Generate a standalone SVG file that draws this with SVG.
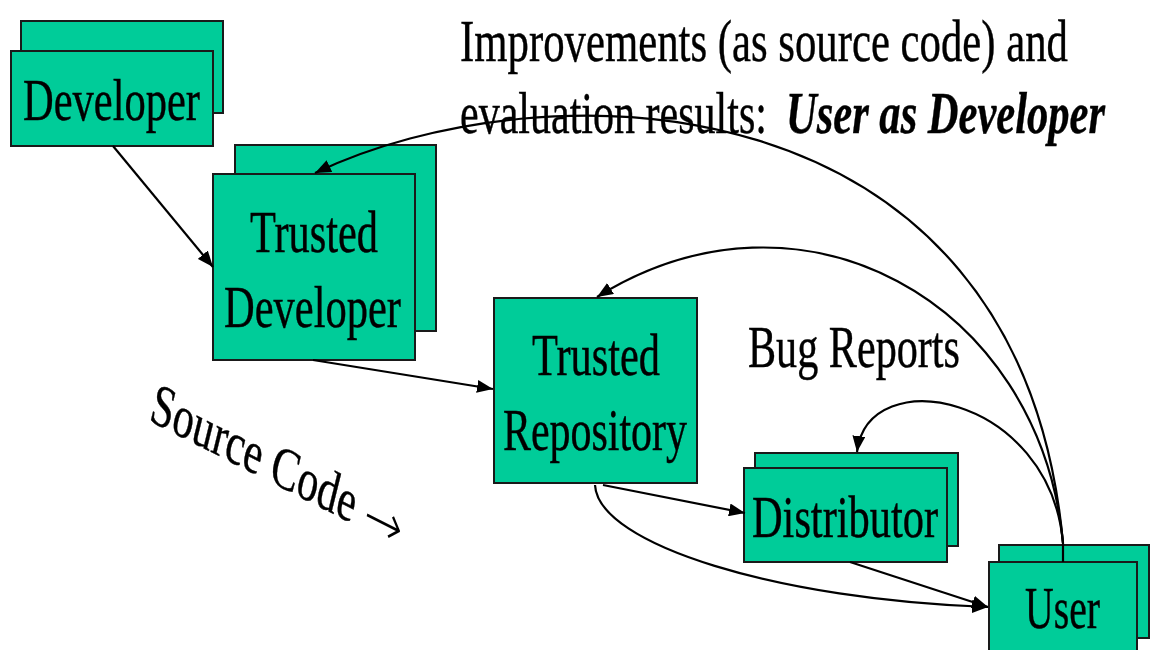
<svg xmlns="http://www.w3.org/2000/svg" width="1151" height="650" viewBox="0 0 1151 650">
<style>
  .box { fill: #00CC99; stroke: #1a1a1a; stroke-width: 2; }
  .t { font-family: "Liberation Serif", "Times New Roman", serif; font-size: 42px; fill: #000; stroke: #000; stroke-width: 0.3; }
  .bi { font-weight: bold; font-style: italic; }
  .c { fill: none; stroke: #000; stroke-width: 2.2; }
  .ca { fill: none; stroke: #000; stroke-width: 2.2; marker-end: url(#ah); }
</style>
<defs>
  <marker id="ah" markerUnits="userSpaceOnUse" markerWidth="17" markerHeight="13" refX="16" refY="6.5" orient="auto">
    <path d="M0,0 L16,6.5 L0,13 z" fill="#000"/>
  </marker>
</defs>
<rect width="1151" height="650" fill="#fff"/>

<g id="header">
  <text class="t" transform="translate(460,61) scale(1,1.43)" textLength="608" lengthAdjust="spacingAndGlyphs">Improvements (as source code) and</text>
  <text class="t" transform="translate(460,133) scale(1,1.43)" textLength="307" lengthAdjust="spacingAndGlyphs">evaluation results:</text>
  <text class="t bi" transform="translate(786,133) scale(1,1.43)" textLength="319" lengthAdjust="spacingAndGlyphs">User as Developer</text>
</g>

<g id="node-developer">
  <rect class="box" x="21" y="21" width="202" height="92"/>
  <rect class="box" x="11" y="51" width="202" height="95"/>
  <text class="t" transform="translate(23,120) scale(1,1.43)" textLength="177" lengthAdjust="spacingAndGlyphs">Developer</text>
</g>

<g id="node-trusted-developer">
  <rect class="box" x="235" y="145" width="201" height="186"/>
  <rect class="box" x="213" y="174" width="202" height="186"/>
  <text class="t" transform="translate(250,252) scale(1,1.43)" textLength="128" lengthAdjust="spacingAndGlyphs">Trusted</text>
  <text class="t" transform="translate(224,327) scale(1,1.43)" textLength="177" lengthAdjust="spacingAndGlyphs">Developer</text>
</g>

<g id="node-trusted-repository">
  <rect class="box" x="494" y="298" width="203" height="185"/>
  <text class="t" transform="translate(532,375) scale(1,1.43)" textLength="128" lengthAdjust="spacingAndGlyphs">Trusted</text>
  <text class="t" transform="translate(503,450) scale(1,1.43)" textLength="184" lengthAdjust="spacingAndGlyphs">Repository</text>
</g>

<g id="node-distributor">
  <rect class="box" x="755" y="453" width="203" height="93"/>
  <rect class="box" x="744" y="468" width="203" height="94"/>
  <text class="t" transform="translate(752,537) scale(1,1.43)" textLength="186" lengthAdjust="spacingAndGlyphs">Distributor</text>
</g>

<g id="node-user">
  <rect class="box" x="999" y="545" width="150" height="93"/>
  <rect class="box" x="989" y="562" width="148" height="100"/>
  <text class="t" transform="translate(1025,628) scale(1,1.43)" textLength="75" lengthAdjust="spacingAndGlyphs">User</text>
</g>

<g id="labels">
  <text class="t" transform="translate(748,367) scale(1,1.43)" textLength="212" lengthAdjust="spacingAndGlyphs">Bug Reports</text>
  <g transform="translate(148,420) scale(1,1.43) rotate(19.5)">
    <text class="t" x="0" y="0" textLength="216" lengthAdjust="spacingAndGlyphs">Source Code</text>
    <text class="t" x="226" y="2" style="font-family:'DejaVu Sans',sans-serif;font-weight:200;font-size:40px;stroke-width:0" textLength="40" lengthAdjust="spacingAndGlyphs">→</text>
  </g>
</g>

<g id="connectors">
  <path class="ca" d="M113,146 L213,267"/>
  <path class="ca" d="M313,360 L493,389"/>
  <path class="ca" d="M603,485 L745,513"/>
  <path class="ca" d="M595,485 C598,545 780,600 988,607"/>
  <path class="ca" d="M850,562 L988,607"/>
  <path class="c" d="M1063,562 L1063,543"/>
  <path class="ca" d="M1063,543 C1050,395 868,360 857,452"/>
  <path class="ca" d="M1063,543 C1040,300 800,170 597,297"/>
  <path class="ca" d="M1063,543 C1020,70 540,65 315,173"/>
</g>
</svg>
